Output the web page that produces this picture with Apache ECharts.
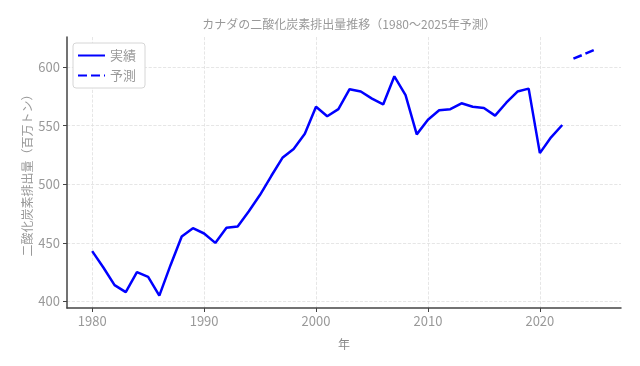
<!DOCTYPE html>
<html><head><meta charset="utf-8">
<script src="https://cdn.jsdelivr.net/npm/echarts@6/dist/echarts.min.js"></script>
<style>html,body{margin:0;padding:0;background:#fff}#c{width:640px;height:366px}</style>
</head><body><div id="c"></div>
<script>
const actualYears = [1980,1981,1982,1983,1984,1985,1986,1987,1988,1989,1990,1991,1992,1993,1994,1995,1996,1997,1998,1999,2000,2001,2002,2003,2004,2005,2006,2007,2008,2009,2010,2011,2012,2013,2014,2015,2016,2017,2018,2019,2020,2021,2022];
const actualValues = [443,429,414,408,425,421,405,431,455.5,462.5,458,450,463,464,477,491,507,522.5,530,543,566,558,564,581,579,573,568,592,576,542.5,555,563,564,569,566,565,558.5,569.5,579,581.5,526.5,540,550.5];
const forecastYears = [2023,2024,2025];
const forecastValues = [607,611,615];
const xTicks = [1980,1990,2000,2010,2020];
const yTicks = [400,450,500,550,600];
const titleText = 'カナダの二酸化炭素排出量推移（1980～2025年予測）';
const seriesNames = ['実績','予測'];

const font = '"Noto Sans CJK JP", "Noto Sans", sans-serif';
const chart = echarts.init(document.getElementById('c'), null, {renderer:'canvas'});
const zip = (a,b)=>a.map((v,i)=>[v,b[i]]);
chart.setOption({
  animation:false,
  textStyle:{fontFamily:font},
  title:{text:titleText,left:344,textAlign:'center',top:13,textStyle:{fontSize:12,fontWeight:'normal',color:'#999',fontFamily:font}},
  legend:{left:73,top:43,orient:'vertical',itemWidth:27,itemHeight:10,itemGap:7,padding:[6,9,6,4],
    backgroundColor:'#fff',borderColor:'#d6d6d6',borderWidth:1,borderRadius:3,
    itemStyle:{opacity:0},
    textStyle:{color:'#999',fontSize:13,fontFamily:font},data:seriesNames},
  grid:{left:67,right:19,top:37,bottom:58},
  xAxis:{type:'value',min:1977.75,max:2027.25,name:'年',nameLocation:'middle',nameGap:30,
    nameTextStyle:{color:'#888',fontSize:12,fontFamily:font},
    axisLine:{show:true,lineStyle:{color:'#444',width:1.5}},
    axisTick:{show:true,length:4,lineStyle:{color:'#444'},customValues:xTicks},
    axisLabel:{color:'#999',fontSize:13,margin:7,customValues:xTicks,fontFamily:font,formatter:v=>String(v)},
    splitLine:{show:true,lineStyle:{color:'#e0e0e0',type:'dashed',width:0.8}}},
  yAxis:{type:'value',min:394.5,max:625.5,name:'二酸化炭素排出量（百万トン）',nameLocation:'middle',nameRotate:90,nameGap:34,
    nameMoveOverlap:false,
    nameTextStyle:{color:'#999',fontSize:12,fontFamily:font},
    axisLine:{show:true,lineStyle:{color:'#444',width:1.5}},
    axisTick:{show:true,length:4,lineStyle:{color:'#444'},customValues:yTicks},
    axisLabel:{color:'#999',fontSize:13,margin:7,customValues:yTicks,fontFamily:font,formatter:v=>String(v)},
    splitLine:{show:true,lineStyle:{color:'#e0e0e0',type:'dashed',width:0.8}}},
  series:[
    {name:seriesNames[0],type:'line',data:zip(actualYears,actualValues),showSymbol:false,symbol:'none',
      lineStyle:{color:'#0000ff',width:2.5},itemStyle:{color:'#0000ff'}},
    {name:seriesNames[1],type:'line',data:zip(forecastYears,forecastValues),showSymbol:false,symbol:'none',
      lineStyle:{color:'#0000ff',width:2.5,type:[9,4]},itemStyle:{color:'#0000ff'}}
  ]
});
</script></body></html>
